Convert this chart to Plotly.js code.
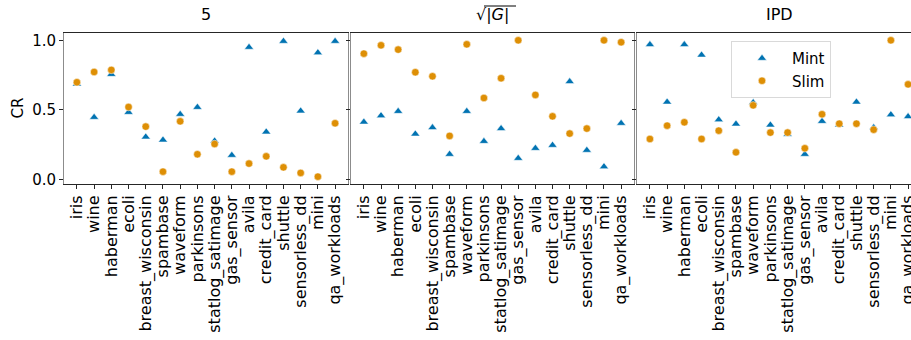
<!DOCTYPE html>
<html>
<head>
<meta charset="utf-8">
<script src="https://cdn.plot.ly/plotly-3.0.1.min.js"></script>
<style>
html,body{margin:0;padding:0;overflow:hidden;background:#fff;}
#chart{width:922px;height:340px;}
</style>
</head>
<body>
<div id="chart"></div>
<script>
const categories = ["iris","wine","haberman","ecoli","breast_wisconsin","spambase","waveform","parkinsons","statlog_satimage","gas_sensor","avila","credit_card","shuttle","sensorless_dd","mini","qa_workloads"];
const panelTitles = ["5", "√|<i>G</i>|", "IPD"];
const seriesNames = ["Mint", "Slim"];

const mint5   = [0.686,0.446,0.755,0.482,0.305,0.283,0.468,0.518,0.276,0.173,0.950,0.341,0.993,0.492,0.911,0.993];
const slim5   = [0.698,0.772,0.787,0.520,0.379,0.055,0.417,0.180,0.254,0.055,0.113,0.165,0.086,0.046,0.019,0.403];
const mintG   = [0.412,0.458,0.489,0.326,0.372,0.180,0.489,0.273,0.365,0.151,0.223,0.245,0.703,0.209,0.091,0.403];
const slimG   = [0.904,0.964,0.933,0.770,0.741,0.312,0.971,0.585,0.727,1.000,0.607,0.453,0.329,0.365,1.000,0.986];
const mintIPD = [0.969,0.556,0.969,0.894,0.429,0.398,0.552,0.391,0.324,0.180,0.417,0.391,0.556,0.372,0.465,0.451];
const slimIPD = [0.290,0.386,0.410,0.290,0.350,0.194,0.532,0.336,0.336,0.223,0.468,0.400,0.400,0.357,1.000,0.683];

const yTicks = [0, 0.5, 1.0];

const W = 922, H = 340;
const BLUE = "#0173b2", ORANGE = "#de8f05";
const FONT = "DejaVu Sans, Liberation Sans, sans-serif";

const panels = [
  {mint: mint5, slim: slim5},
  {mint: mintG, slim: slimG},
  {mint: mintIPD, slim: slimIPD}
];
const pxDomains = [[64,348],[351,634],[637,921]];
const yDom = [(H-184)/H, (H-33)/H];

const data = [];
const layout = {
  width: W, height: H,
  margin: {l:0, r:0, t:0, b:0},
  paper_bgcolor: "#fff", plot_bgcolor: "#fff",
  font: {family: FONT, color: "#000", size: 14},
  showlegend: true,
  legend: {
    x: 731/W, y: (H-41)/H, xanchor: "left", yanchor: "top",
    bgcolor: "rgba(255,255,255,0.8)", bordercolor: "#d9d9d9", borderwidth: 1,
    font: {family: FONT, size: 15, color: "#000"},
    itemwidth: 50, tracegroupgap: 0
  },
  annotations: [],
  shapes: []
};

panels.forEach((p, i) => {
  const xa = i === 0 ? "x" : "x" + (i+1);
  const ya = i === 0 ? "y" : "y" + (i+1);
  data.push({
    type: "scatter", mode: "markers", name: seriesNames[0],
    x: categories, y: p.mint, xaxis: xa, yaxis: ya,
    marker: {symbol: "triangle-up", size: 8, color: BLUE, line: {color: "#fff", width: 0.5}},
    showlegend: i === 2, legendgroup: "mint"
  });
  data.push({
    type: "scatter", mode: "markers", name: seriesNames[1],
    x: categories, y: p.slim, xaxis: xa, yaxis: ya,
    marker: {symbol: "circle", size: 7.5, color: ORANGE, line: {color: "#fff", width: 0.5}},
    showlegend: i === 2, legendgroup: "slim"
  });
  const xkey = i === 0 ? "xaxis" : "xaxis" + (i+1);
  const ykey = i === 0 ? "yaxis" : "yaxis" + (i+1);
  layout[xkey] = {
    domain: [pxDomains[i][0]/W, pxDomains[i][1]/W],
    anchor: ya, type: "category", categoryorder: "array", categoryarray: categories,
    range: [-0.75, 15.75],
    tickmode: "array", tickvals: categories, ticktext: categories,
    showgrid: false, zeroline: false,
    showline: true, mirror: true, linecolor: "#262626", linewidth: 1,
    ticks: "outside", ticklen: 4, tickwidth: 1, tickcolor: "#262626",
    tickangle: -90, tickfont: {family: FONT, size: 16, color: "#000"},
    fixedrange: true
  };
  layout[ykey] = {
    domain: yDom, anchor: xa,
    range: [-0.0338, 1.0525],
    tickvals: yTicks, tickformat: ".1f",
    showticklabels: i === 0,
    showgrid: false, zeroline: false,
    showline: true, mirror: true, linecolor: "#8c8c8c", linewidth: 1,
    ticks: "outside", ticklen: 4, tickwidth: 1, tickcolor: "#262626",
    tickfont: {family: FONT, size: 15, color: "#000"},
    fixedrange: true
  };
  layout.annotations.push({
    text: panelTitles[i], xref: "paper", yref: "paper",
    x: (pxDomains[i][0] + pxDomains[i][1]) / 2 / W, y: (H-15)/H,
    xanchor: "center", yanchor: "middle", showarrow: false,
    font: {family: FONT, size: 16, color: "#000"}
  });
});

layout.annotations.push({
  text: "CR", xref: "paper", yref: "paper",
  x: 18/W, y: (yDom[0] + yDom[1]) / 2,
  xanchor: "center", yanchor: "middle", textangle: -90, showarrow: false,
  font: {family: FONT, size: 15, color: "#000"}
});

// overline of the square root in the middle title
layout.shapes.push({
  type: "line", xref: "paper", yref: "paper",
  x0: 484/W, x1: 516/W, y0: (H-6)/H, y1: (H-6)/H,
  line: {color: "#000", width: 1}
});

Plotly.newPlot("chart", data, layout, {displayModeBar: false, staticPlot: true});
</script>
</body>
</html>
